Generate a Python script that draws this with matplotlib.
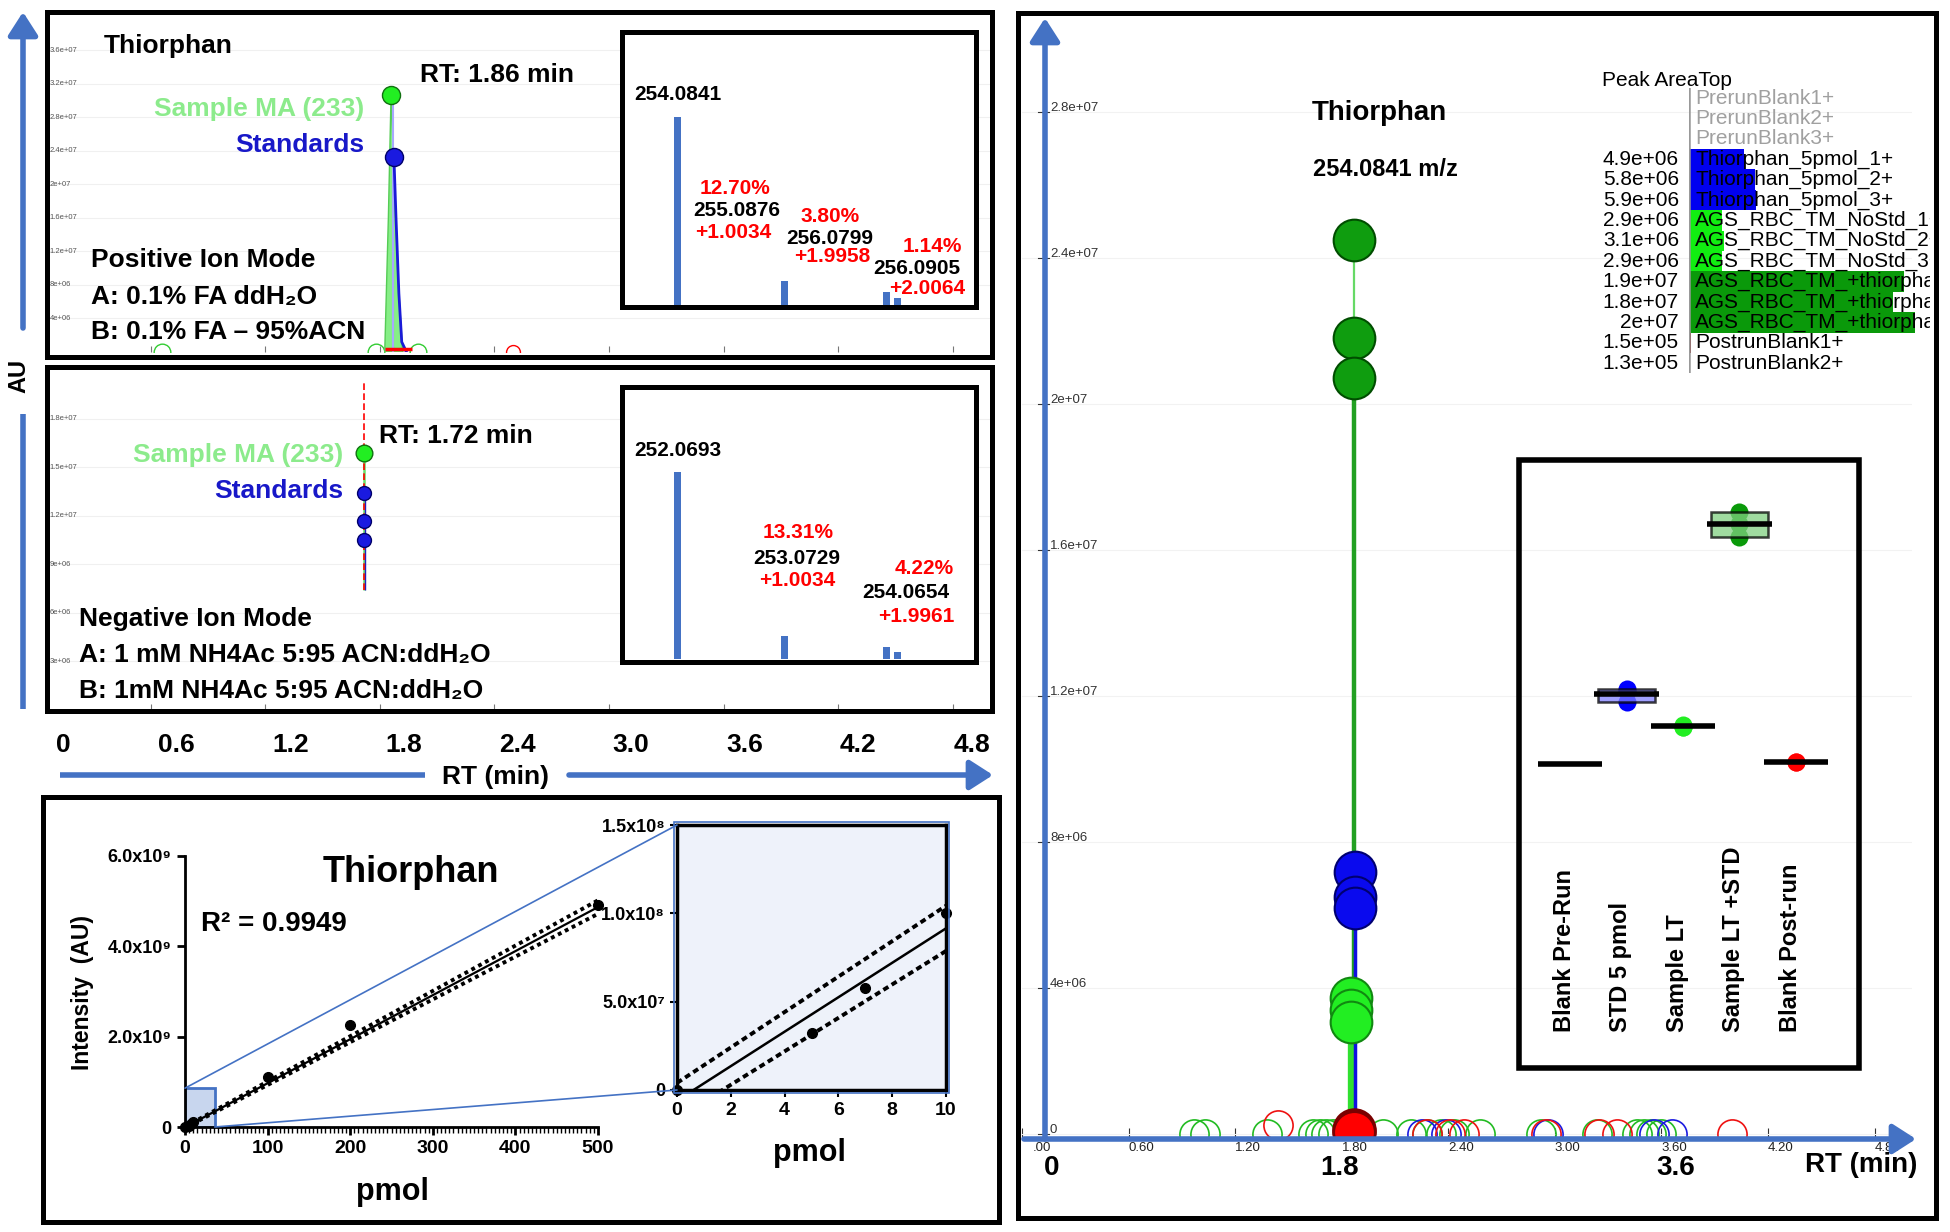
import numpy as np
import matplotlib
matplotlib.use("Agg")
import matplotlib.pyplot as plt
from matplotlib.patches import Rectangle, ConnectionPatch
import matplotlib.transforms as mtransforms

W, H, DPI = 1950, 1232, 100
NARROW = ["Liberation Sans Narrow", "Liberation Sans", "DejaVu Sans"]
ARIAL = ["Liberation Sans", "DejaVu Sans"]
plt.rcParams["font.family"] = NARROW
BLUE_AX = "#4472C4"

# ================= DATA =================
big_rt_values = [0, 0.6, 1.2, 1.8, 2.4, 3.0, 3.6, 4.2, 4.8]
big_rt_labels = ["0", "0.6", "1.2", "1.8", "2.4", "3.0", "3.6", "4.2", "4.8"]

# positive ion mode chromatogram (RT min, intensity)
pos_sample_rt = [1.826, 1.845, 1.859, 1.872, 1.895, 1.92]
pos_sample_int = [0, 1.6e7, 3.06e7, 2.3e7, 0.9e7, 0]
pos_std_rt = [1.85, 1.874, 1.885, 1.90, 1.915, 1.94]
pos_std_int = [0, 2.33e7, 1.6e7, 7.0e6, 1.2e6, 0]
pos_dot_rt = [1.859, 1.874]
pos_dot_int = [3.06e7, 2.33e7]
pos_noise_green_rt = [0.66, 1.78, 2.0]
pos_noise_red_rt = [2.50]
pos_blank_rt = [1.83, 1.97]
pos_blank_int = 3.0e5
pos_ytick_vals = [4e6, 8e6, 1.2e7, 1.6e7, 2e7, 2.4e7, 2.8e7, 3.2e7, 3.6e7]

# negative ion mode chromatogram
neg_rt = 1.72
neg_sample_int = 1.59e7
neg_std_int = [1.34e7, 1.17e7, 1.05e7]
neg_trace_low = 7.4e6
neg_marker_top = 2.04e7
neg_ytick_vals = [3e6, 6e6, 9e6, 1.2e7, 1.5e7, 1.8e7]

# isotope pattern insets (shift from monoisotopic peak, relative height)
spec_shift = [0.0, 1.0, 1.97, 2.07]
pos_spec_rel = [100, 12.8, 6.9, 3.7]
neg_spec_rel = [100, 12.3, 6.4, 3.7]

# calibration curve
cal_pmol = [0, 5, 7, 10, 100, 200, 500]
cal_int = [0, 3.2e7, 5.8e7, 1.0e8, 1.1e9, 2.26e9, 4.91e9]
fit_slope = 9.75e6
fit_intercept = -6.0e6
band_base = 1.0e7
band_growth = 2.8e5
cal_xticks = [0, 100, 200, 300, 400, 500]
cal_yticks = [0, 2e9, 4e9, 6e9]
cal_ylabels = ["0", "2.0x10\u2079", "4.0x10\u2079", "6.0x10\u2079"]
zoom_x, zoom_y = 36, 0.86e9
ins_xticks = [0, 2, 4, 6, 8, 10]
ins_yticks = [0, 5e7, 1e8, 1.5e8]
ins_ylabels = ["0", "5.0x10\u2077", "1.0x10\u2078", "1.5x10\u2078"]

# right panel: extracted ion chromatogram points
rp_ltstd_rt, rp_ltstd_h = 1.87, [2.45e7, 2.18e7, 2.07e7]
rp_std_rt, rp_std_h = 1.875, [7.18e6, 6.49e6, 6.19e6]
rp_lt_rt, rp_lt_h = 1.85, [3.73e6, 3.40e6, 3.07e6]
rp_post_rt, rp_post_h = 1.87, [1.0e5, 6.0e4]
rp_noise_green = [0.97, 1.03, 1.38, 1.64, 1.68, 1.71, 1.75, 2.03, 2.19, 2.28, 2.36,
                  2.43, 2.58, 2.92, 3.24, 3.46, 3.50, 3.54, 3.60]
rp_noise_blue = [2.25, 2.39, 2.96, 3.56, 3.66]
rp_noise_red = [1.44, 2.28, 2.41, 2.49, 2.95, 3.25, 3.35, 4.00]
rp_noise_red_y = [2.5e5, 0, 0, 0, 0, 0, 0, 0]
rp_ytick_vals = [0, 4e6, 8e6, 1.2e7, 1.6e7, 2e7, 2.4e7, 2.8e7]
rp_xtick_vals = [0, 0.6, 1.2, 1.8, 2.4, 3.0, 3.6, 4.2, 4.8]
rp_xtick_labels = [".00", "0.60", "1.20", "1.80", "2.40", "3.00", "3.60", "4.20", "4.80"]

# peak area table
tab_names = ["PrerunBlank1+", "PrerunBlank2+", "PrerunBlank3+",
             "Thiorphan_5pmol_1+", "Thiorphan_5pmol_2+", "Thiorphan_5pmol_3+",
             "AGS_RBC_TM_NoStd_1+", "AGS_RBC_TM_NoStd_2+", "AGS_RBC_TM_NoStd_3+",
             "AGS_RBC_TM_+thiorphan_1+", "AGS_RBC_TM_+thiorphan_2+", "AGS_RBC_TM_+thiorphan_3+",
             "PostrunBlank1+", "PostrunBlank2+"]
tab_area = [np.nan, np.nan, np.nan, 4.9e6, 5.8e6, 5.9e6, 2.9e6, 3.1e6, 2.9e6,
            1.9e7, 1.8e7, 2e7, 1.5e5, 1.3e5]
tab_bar_colors = ["none"] * 3 + ["#0000f0"] * 3 + ["#11ee11"] * 3 + ["#0a990a"] * 3 + ["#8b0000"] * 2
tab_name_colors = ["#a0a0a0"] * 3 + ["black"] * 11

# box-plot groups
box_cats = ["Blank Pre-Run", "STD 5 pmol", "Sample LT", "Sample LT +STD", "Blank Post-run"]
box_slices = [(0, 3), (3, 6), (6, 9), (9, 12), (12, 14)]
box_dot_colors = [None, "#0000ff", "#22ee22", "#0a9a0a", "#ff0000"]
box_fill_colors = [None, "#8080ff", "#80e080", "#80d080", "#ff8080"]


# ================= FIGURE =================
def px_rect(x0, y0, x1, y1):
    return [x0 / W, 1 - y1 / H, (x1 - x0) / W, (y1 - y0) / H]


fig = plt.figure(figsize=(W / DPI, H / DPI), dpi=DPI)
fig.patch.set_facecolor("white")

ov = fig.add_axes([0, 0, 1, 1])
ov.set_xlim(0, W)
ov.set_ylim(H, 0)
ov.axis("off")
ov.set_zorder(10)


def T(x, y, s, size, ha="left", color="black", weight="bold", family=NARROW, **kw):
    ov.text(x, y, s, fontsize=size, ha=ha, va="center", color=color,
            fontweight=weight, family=family, **kw)


def box(x0, y0, x1, y1, lw=3.6, color="black"):
    ov.add_patch(Rectangle((x0, y0), x1 - x0, y1 - y0, fill=False, lw=lw,
                           edgecolor=color, joinstyle="miter"))


def chrom_axes(rect, ylim, yvals):
    ax = fig.add_axes(px_rect(*rect))
    ax.set_xlim(0.058, 5.005)
    ax.set_ylim(*ylim)
    for s in ax.spines.values():
        s.set_visible(False)
    ax.patch.set_alpha(0)
    ax.set_xticks(big_rt_values[1:])
    ax.tick_params(axis="x", direction="in", length=4, color="#777777", labelbottom=False)
    ax.set_yticks(yvals)
    ax.tick_params(axis="y", length=0, labelleft=False)
    ax.grid(axis="y", color="#f0f0f0", lw=0.8)
    tr = mtransforms.blended_transform_factory(ax.transAxes, ax.transData)
    for v in yvals:
        ax.text(0.003, v, "%g" % v, transform=tr, fontsize=5.5, color="#555555",
                va="center", family=ARIAL)
    return ax


# ---------- panel 1: positive mode ----------
ax1 = chrom_axes((47, 14, 992, 352), (0, 4.03e7), pos_ytick_vals)
ax1.fill(pos_std_rt, pos_std_int, color="#3030e0", alpha=0.25, lw=0, zorder=2)
ax1.fill(pos_sample_rt, pos_sample_int, color="#86ee86", ec="#55cc55", lw=1, zorder=3)
ax1.plot(pos_std_rt[1:], pos_std_int[1:], color="#1a1ad8", lw=2, zorder=4)
ax1.vlines(pos_dot_rt[0] + 0.01, 0, pos_dot_int[0], color="#a8a8ff", lw=1.5, zorder=3)
ax1.hlines(pos_blank_int, pos_blank_rt[0], pos_blank_rt[1], color="red", lw=2.5, zorder=5)
ax1.plot(pos_dot_rt[0], pos_dot_int[0], "o", ms=13, mfc="#22ee22", mec="#107010", zorder=6)
ax1.plot(pos_dot_rt[1], pos_dot_int[1], "o", ms=13, mfc="#1a1ae0", mec="#00006a", zorder=6)
ax1.plot(pos_noise_green_rt, [0] * len(pos_noise_green_rt), "o", ms=12, mfc="none",
         mec="#33cc33", mew=1, zorder=2)
ax1.plot(pos_noise_red_rt, [0] * len(pos_noise_red_rt), "o", ms=10, mfc="none",
         mec="red", mew=1, zorder=2)

# ---------- panel 2: negative mode ----------
ax2 = chrom_axes((47, 372, 992, 710), (0, 2.09e7), neg_ytick_vals)
ax2.vlines(neg_rt - 0.004, neg_trace_low, neg_sample_int, colors="#66dd66", lw=1.8, zorder=2)
ax2.vlines(neg_rt + 0.003, neg_trace_low, neg_std_int[0], colors="#2020c0", lw=1, zorder=2)
ax2.vlines(neg_rt, neg_trace_low, neg_marker_top, colors="red", linestyles=(0, (4, 2)),
           lw=1.2, zorder=3)
ax2.plot([neg_rt] * len(neg_std_int), neg_std_int, "o", ms=10, mfc="#1a1ae0",
         mec="#00006a", zorder=5)
ax2.plot(neg_rt, neg_sample_int, "o", ms=12, mfc="#22ee22", mec="#107010", zorder=6)


# ---------- spectrum insets ----------
def spec_axes(rect, rel, ylim):
    ax = fig.add_axes(px_rect(*rect))
    ax.bar(spec_shift, rel, width=0.066, color=BLUE_AX)
    ax.set_xlim(-0.528, 2.81)
    ax.set_ylim(*ylim)
    ax.set_xticks([])
    ax.set_yticks([])
    for s in ax.spines.values():
        s.set_linewidth(3.6)
    return ax


spec_axes((622, 32, 976, 307), pos_spec_rel, (-1.1, 145.2))
spec_axes((622, 387, 976, 662), neg_spec_rel, (-1.6, 145.5))

# ---------- big RT row ----------
ax_rt = fig.add_axes(px_rect(63, 730, 972, 760))
ax_rt.set_xlim(0, 4.8)
ax_rt.axis("off")
tr_rt = mtransforms.blended_transform_factory(ax_rt.transData, ax_rt.transAxes)
for v, lbl in zip(big_rt_values, big_rt_labels):
    ax_rt.text(v, 0.5, lbl, transform=tr_rt, ha="center", va="center", fontsize=19,
               fontweight="bold")

# ---------- calibration curve ----------
axc = fig.add_axes(px_rect(185, 856, 598, 1127))
axc.set_xlim(0, 500)
axc.set_ylim(0, 6e9)
axc.patch.set_alpha(0)
for s in ["top", "right"]:
    axc.spines[s].set_visible(False)
for s in ["left", "bottom"]:
    axc.spines[s].set_linewidth(2)
axc.add_patch(Rectangle((0, 0), zoom_x, zoom_y, facecolor="#c8d6ee", edgecolor=BLUE_AX,
                        lw=2, zorder=1))
xs = np.linspace(0, 500, 200)
fit = fit_slope * xs + fit_intercept
band = band_base + band_growth * xs
axc.plot(xs, fit, color="black", lw=1.6, zorder=3)
axc.plot(xs, fit + band, color="black", lw=2.8, ls=(0, (1, 1)), zorder=3)
axc.plot(xs, fit - band, color="black", lw=2.8, ls=(0, (1, 1)), zorder=3)
axc.plot(cal_pmol, cal_int, "o", color="black", ms=7, zorder=5, clip_on=False)
axc.set_xticks(cal_xticks, labels=[str(v) for v in cal_xticks], fontsize=14, fontweight="bold")
axc.set_yticks(cal_yticks, labels=cal_ylabels, fontsize=13, fontweight="bold")
axc.set_xticks(np.arange(0, 501, 5), minor=True)
axc.tick_params(axis="both", which="major", length=6, width=2)
axc.tick_params(axis="x", which="minor", length=4, width=1)

axi = fig.add_axes(px_rect(677, 825, 946, 1090))
axi.set_facecolor("#eef2fa")
axi.set_xlim(0, 10)
axi.set_ylim(0, 1.5e8)
xi = np.linspace(0, 10, 50)
fi = fit_slope * xi + fit_intercept
bi = band_base + band_growth * xi
axi.plot(xi, fi, color="black", lw=1.8)
axi.plot(xi, fi + bi, color="black", lw=2.8, ls=(0, (1.5, 1)))
axi.plot(xi, fi - bi, color="black", lw=2.8, ls=(0, (1.5, 1)))
axi.plot(cal_pmol, cal_int, "o", color="black", ms=7, clip_on=False, zorder=5)
axi.set_xticks(ins_xticks, labels=[str(v) for v in ins_xticks], fontsize=14, fontweight="bold")
axi.set_yticks(ins_yticks, labels=ins_ylabels, fontsize=13, fontweight="bold")
axi.tick_params(length=5, width=1.5)
for s in axi.spines.values():
    s.set_linewidth(2.5)
for xyA, xyB in [((0, zoom_y), (0, 1.5e8)), ((zoom_x, 0), (0, 0))]:
    con = ConnectionPatch(xyA=xyA, coordsA=axc.transData, xyB=xyB, coordsB=axi.transData,
                          color=BLUE_AX, lw=1.2)
    fig.add_artist(con)

# ---------- right panel: EIC ----------
axr = fig.add_axes(px_rect(1022, 23, 1912, 1139))
axr.set_xlim(0.039, 5.011)
axr.set_ylim(-0.137e6, 30.44e6)
axr.patch.set_alpha(0)
for s in axr.spines.values():
    s.set_visible(False)
axr.set_yticks(rp_ytick_vals)
axr.tick_params(axis="y", length=0, labelleft=False)
axr.grid(axis="y", color="#f2f2f2", lw=0.8)
axr.set_xticks(rp_xtick_vals)
axr.tick_params(axis="x", direction="in", length=8, color="#333333", labelbottom=False)

axr.vlines(rp_ltstd_rt, 0, max(rp_ltstd_h), color="#66d966", lw=1.6, zorder=2)
axr.vlines(rp_ltstd_rt, 0, min(rp_ltstd_h), color="#22a022", lw=3.2, zorder=2)
axr.vlines(rp_lt_rt + 0.01, 0, max(rp_lt_h), color="#30e030", lw=6, zorder=2)
axr.vlines(rp_std_rt, 0, max(rp_std_h), color="#1010e0", lw=2.5, zorder=3)
axr.plot(rp_noise_green, [0] * len(rp_noise_green), "o", ms=21, mfc="none", mec="#22bb22",
         mew=1.2, zorder=2)
axr.plot(rp_noise_blue, [0] * len(rp_noise_blue), "o", ms=21, mfc="none", mec="#1a1ae0",
         mew=1.2, zorder=2)
axr.plot(rp_noise_red, rp_noise_red_y, "o", ms=21, mfc="none", mec="#ee1111", mew=1.2, zorder=2)
axr.plot([rp_ltstd_rt] * 3, rp_ltstd_h, "o", ms=30, mfc="#0f9d0f", mec="#004d00", mew=1.5, zorder=4)
axr.plot([rp_std_rt] * 3, rp_std_h, "o", ms=30, mfc="#0a0aee", mec="#000070", mew=1.5, zorder=4)
axr.plot([rp_lt_rt] * 3, rp_lt_h, "o", ms=30, mfc="#22ee22", mec="#118811", mew=1.5, zorder=4)
axr.plot([rp_post_rt] * 2, rp_post_h, "o", ms=30, mfc="#ff0000", mec="#7a0000", mew=2, zorder=5)

tr_rx = mtransforms.blended_transform_factory(axr.transData, ov.transData)
for v, lbl in zip(rp_xtick_vals, rp_xtick_labels):
    axr.text(v + (0.06 if lbl.startswith(".") else 0), 1148, lbl, transform=tr_rx, ha="left",
             va="center", fontsize=9.5, color="#222222", zorder=1)
tr_ry = mtransforms.blended_transform_factory(ov.transData, axr.transData)
tr_ry_lbl = mtransforms.offset_copy(tr_ry, fig=fig, x=0, y=4, units="dots")
for v in rp_ytick_vals:
    ov.plot([1038, 1049], [v, v], color="#333333", lw=0.8, transform=tr_ry)
    ov.text(1050, v, "%g" % v, transform=tr_ry_lbl, fontsize=9.5, color="#333333",
            ha="left", va="center", family=NARROW)

# ---------- peak area table ----------
axt = fig.add_axes(px_rect(1689, 87.8, 1930, 373.4))
axt.set_xlim(0, 2.13e7)
axt.set_ylim(len(tab_names) - 0.5, -0.5)
axt.axis("off")
rows = np.arange(len(tab_names))
axt.barh(rows, np.nan_to_num(tab_area), height=1.0, color=tab_bar_colors)
axt.axvline(0, color="#999999", lw=1.8)
tr_val = mtransforms.offset_copy(axt.transData, fig=fig, x=-10, y=0, units="dots")
tr_name = mtransforms.offset_copy(axt.transData, fig=fig, x=6, y=0, units="dots")
for i, (nm, a, c) in enumerate(zip(tab_names, tab_area, tab_name_colors)):
    if not np.isnan(a):
        axt.text(0, i, "%.2g" % a, transform=tr_val, ha="right", va="center",
                 fontsize=15, family=ARIAL, clip_on=False)
    axt.text(0, i, nm, transform=tr_name, ha="left", va="center", fontsize=15,
             family=ARIAL, color=c, clip_on=True)

# ---------- inner box plot ----------
axb = fig.add_axes(px_rect(1530, 480, 1850, 800))
axb.set_xlim(-0.71, 4.96)
axb.set_ylim(-2.86e6, 22.5e6)
axb.axis("off")
area_arr = np.array(tab_area)
for i, (a, b) in enumerate(box_slices):
    vals = area_arr[a:b]
    good = vals[~np.isnan(vals)]
    mean = good.mean() if len(good) else 0.0
    if len(good):
        axb.plot([i] * len(good), good, "o", ms=13, color=box_dot_colors[i], mec="none", zorder=1)
        if good.max() - good.min() > 3e5:
            axb.add_patch(Rectangle((i - 0.5, good.min()), 1.0, good.max() - good.min(),
                                    facecolor=box_fill_colors[i], alpha=0.75, edgecolor="black",
                                    lw=1.8, zorder=2))
    axb.hlines(mean, i - 0.57, i + 0.57, color="black", lw=4, zorder=3)
tr_bx = mtransforms.blended_transform_factory(axb.transData, ov.transData)
for i, cat in enumerate(box_cats):
    axb.text(i - 0.1, 1032, cat, transform=tr_bx, rotation=90, ha="center", va="bottom",
             fontsize=17, fontweight="bold", family=ARIAL, clip_on=False)

# ================= OVERLAY: frames, arrows, annotations =================
box(47, 12, 992, 357)
box(47, 367, 992, 711)
box(43, 797, 999, 1222)
box(1018, 13, 1936, 1218)
box(1519, 460, 1859, 1068, lw=4)
box(674, 822, 949, 1093, lw=1.2, color=BLUE_AX)

arrow_kw = dict(arrowstyle="-|>,head_length=0.7,head_width=0.45", color=BLUE_AX, lw=4,
                shrinkA=0, shrinkB=0, mutation_scale=20)
ov.annotate("", xy=(23, 12), xytext=(23, 328), arrowprops=arrow_kw)
ov.plot([23, 23], [414, 709], color=BLUE_AX, lw=4, solid_capstyle="butt")
T(19, 376, "AU", 17, ha="center", rotation=90)

ov.plot([60, 425], [775, 775], color=BLUE_AX, lw=4, solid_capstyle="butt")
ov.annotate("", xy=(993, 775), xytext=(569, 775), arrowprops=arrow_kw)
T(495, 777, "RT (min)", 19, ha="center")

ov.annotate("", xy=(1045, 18), xytext=(1045, 1139), arrowprops=arrow_kw)
ov.annotate("", xy=(1916, 1139), xytext=(1024, 1139), arrowprops=arrow_kw)

LG, DB, RED = "#8CEB8C", "#1818C8", "#ff0000"
# panel 1 text
T(104, 46, "Thiorphan", 19)
T(420, 75, "RT: 1.86 min", 19)
T(364, 109, "Sample MA (233)", 19, ha="right", color=LG)
T(364, 145, "Standards", 19, ha="right", color=DB)
T(91, 260, "Positive Ion Mode", 19)
T(91, 297, "A: 0.1% FA ddH\u2082O", 19)
T(91, 332, "B: 0.1% FA \u2013 95%ACN", 19)
T(634, 95, "254.0841", 15)
T(735, 188, "12.70%", 15, ha="center", color=RED)
T(737, 210, "255.0876", 15, ha="center")
T(733, 233, "+1.0034", 15, ha="center", color=RED)
T(830, 217, "3.80%", 15, ha="center", color=RED)
T(830, 238, "256.0799", 15, ha="center")
T(832, 257, "+1.9958", 15, ha="center", color=RED)
T(932, 247, "1.14%", 15, ha="center", color=RED)
T(917, 269, "256.0905", 15, ha="center")
T(927, 288, "+2.0064", 15, ha="center", color=RED)
# panel 2 text
T(379, 436, "RT: 1.72 min", 19)
T(343, 455, "Sample MA (233)", 19, ha="right", color=LG)
T(343, 491, "Standards", 19, ha="right", color=DB)
T(79, 619, "Negative Ion Mode", 19)
T(79, 655, "A: 1 mM NH4Ac 5:95 ACN:ddH\u2082O", 19)
T(79, 691, "B: 1mM NH4Ac 5:95 ACN:ddH\u2082O", 19)
T(634, 450, "252.0693", 15)
T(798, 533, "13.31%", 15, ha="center", color=RED)
T(797, 559, "253.0729", 15, ha="center")
T(797, 581, "+1.0034", 15, ha="center", color=RED)
T(924, 569, "4.22%", 15, ha="center", color=RED)
T(906, 592, "254.0654", 15, ha="center")
T(916, 617, "+1.9961", 15, ha="center", color=RED)
# calibration text
T(411, 872, "Thiorphan", 26, ha="center")
T(201, 924, "R\u00b2 = 0.9949", 20)
T(392, 1192, "pmol", 22, ha="center")
T(809, 1153, "pmol", 22, ha="center")
T(83, 992, "Intensity  (AU)", 16.5, ha="center", rotation=90)
# right panel text
T(1379, 113, "Thiorphan", 20, ha="center")
T(1385, 170, "254.0841 m/z", 17, ha="center")
T(1602, 80, "Peak AreaTop", 15, weight="normal", family=ARIAL)
T(1052, 1168, "0", 20, ha="center")
T(1340, 1168, "1.8", 20, ha="center")
T(1676, 1168, "3.6", 20, ha="center")
T(1805, 1165, "RT (min)", 20)

fig.savefig("out.png", dpi=DPI, facecolor="white")
